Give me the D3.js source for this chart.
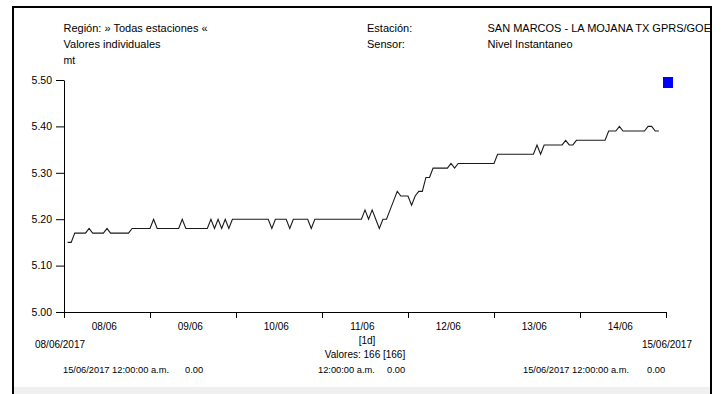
<!DOCTYPE html>
<html><head><meta charset="utf-8">
<script src="https://cdn.jsdelivr.net/npm/d3@7"></script>
<style>
html,body{margin:0;padding:0;background:#fff;}
svg{display:block;font-family:"Liberation Sans",Arial,sans-serif;}
</style></head><body>
<svg id="chart" width="723" height="394"></svg>
<script>
// ---- data ----
const startDate = Date.UTC(2017, 5, 8);   // 08/06/2017 00:00
const endDate = Date.UTC(2017, 5, 15);    // 15/06/2017 00:00
const dayLabels = ["08/06", "09/06", "10/06", "11/06", "12/06", "13/06", "14/06"];
const yTicks = [5.00, 5.10, 5.20, 5.30, 5.40, 5.50];
// hourly readings (mt), first at 08/06 01:00
const levels = [
  5.15,5.15,5.17,5.17,5.17,5.17,5.18,5.17,5.17,5.17,5.17,5.18,5.17,5.17,5.17,5.17,5.17,5.17,5.18,5.18,5.18,5.18,5.18,5.18,
  5.20,5.18,5.18,5.18,5.18,5.18,5.18,5.18,5.20,5.18,5.18,5.18,5.18,5.18,5.18,5.18,5.20,5.18,5.20,5.18,5.20,5.18,5.20,5.20,
  5.20,5.20,5.20,5.20,5.20,5.20,5.20,5.20,5.20,5.18,5.20,5.20,5.20,5.20,5.18,5.20,5.20,5.20,5.20,5.20,5.18,5.20,5.20,5.20,
  5.20,5.20,5.20,5.20,5.20,5.20,5.20,5.20,5.20,5.20,5.20,5.22,5.20,5.22,5.20,5.18,5.20,5.20,5.22,5.24,5.26,5.25,5.25,5.25,
  5.23,5.25,5.26,5.26,5.29,5.29,5.31,5.31,5.31,5.31,5.31,5.32,5.31,5.32,5.32,5.32,5.32,5.32,5.32,5.32,5.32,5.32,5.32,5.32,
  5.34,5.34,5.34,5.34,5.34,5.34,5.34,5.34,5.34,5.34,5.34,5.36,5.34,5.36,5.36,5.36,5.36,5.36,5.36,5.37,5.36,5.36,5.37,5.37,
  5.37,5.37,5.37,5.37,5.37,5.37,5.37,5.39,5.39,5.39,5.40,5.39,5.39,5.39,5.39,5.39,5.39,5.39,5.40,5.40,5.39,5.39
];
const headerLeft = ["Región: » Todas estaciones «", "Valores individuales"];
const headerMid = ["Estación:", "Sensor:"];
const headerRight = ["SAN MARCOS - LA MOJANA TX GPRS/GOES", "Nivel Instantaneo"];
const unitLabel = "mt";
const startLabel = "08/06/2017";
const endLabel = "15/06/2017";
const intervalLabel = "[1d]";
const countLabel = "Valores: 166 [166]";
const footerLabels = ["15/06/2017 12:00:00 a.m.", "12:00:00 a.m.", "15/06/2017 12:00:00 a.m."];
const footerValues = ["0.00", "0.00", "0.00"];

// ---- drawing ----
const svg = d3.select("#chart");
const HOUR = 3600000, DAY = 24 * HOUR;

// window background band and frame
svg.append("rect").attr("x", 13).attr("y", 387).attr("width", 698).attr("height", 7).attr("fill", "#f0f0f0");
svg.append("path").attr("d", "M13,394V7H711V394").attr("fill", "none").attr("stroke", "#000").attr("stroke-width", 2);

const x = d3.scaleUtc().domain([startDate, endDate]).range([64, 666]);
const y = d3.scaleLinear().domain([5.0, 5.5]).range([312, 80]);

// header text
const hdr = svg.append("g").attr("font-size", 11).attr("fill", "#000");
headerLeft.forEach((t, i) => hdr.append("text").attr("x", 63.5).attr("y", 31.5 + i * 16).text(t));
headerMid.forEach((t, i) => hdr.append("text").attr("x", 367).attr("y", 31.5 + i * 16).text(t));
svg.append("clipPath").attr("id", "hclip").append("rect").attr("x", 0).attr("y", 0).attr("width", 710).attr("height", 394);
headerRight.forEach((t, i) => hdr.append("text").attr("x", 487.5).attr("y", 31.5 + i * 16)
  .attr("clip-path", "url(#hclip)").text(t));
svg.append("text").attr("x", 63.5).attr("y", 63.5).attr("font-size", 10.5).text(unitLabel);

// legend swatch
svg.append("rect").attr("x", 663).attr("y", 77).attr("width", 10).attr("height", 11).attr("fill", "#0000ff");

// y axis
const yAxis = svg.append("g").attr("transform", "translate(64,0)")
  .call(d3.axisLeft(y).tickValues(yTicks).tickSize(8).tickSizeOuter(0).tickPadding(4).tickFormat(d3.format(".2f")));
yAxis.selectAll("text").attr("font-size", 10.5).attr("font-family", "Liberation Sans, Arial, sans-serif").attr("fill", "#000");
yAxis.selectAll("line,path").attr("stroke", "#000");

// x axis
const dayTicks = d3.utcDay.range(startDate, endDate + 1);
const xAxis = svg.append("g").attr("transform", "translate(0,312)")
  .call(d3.axisBottom(x).tickValues(dayTicks).tickSize(6).tickSizeOuter(0).tickFormat(""));
xAxis.selectAll("line,path").attr("stroke", "#000");

// day labels
svg.append("g").attr("font-size", 10).attr("text-anchor", "middle")
  .selectAll("text").data(dayLabels).join("text")
  .attr("x", (d, i) => x(startDate + i * DAY + 11.25 * HOUR))
  .attr("y", 330).text(d => d);

// series line
const line = d3.line()
  .x((d, i) => x(startDate + (i + 1) * HOUR))
  .y(d => y(d));
svg.append("path").datum(levels).attr("d", line)
  .attr("fill", "none").attr("stroke", "#1a1a1a").attr("stroke-width", 1.1).attr("stroke-linejoin", "miter");

// footer texts
const ft = svg.append("g").attr("font-size", 10).attr("fill", "#000");
ft.append("text").attr("x", 35).attr("y", 348).text(startLabel);
ft.append("text").attr("x", 692).attr("y", 348).attr("text-anchor", "end").text(endLabel);
ft.append("text").attr("x", 367).attr("y", 343.5).attr("text-anchor", "middle").text(intervalLabel);
ft.append("text").attr("x", 365).attr("y", 358).attr("text-anchor", "middle").text(countLabel);
const fx = [63, 318, 523], vx = [185, 387, 647];
footerLabels.forEach((t, i) => {
  ft.append("text").attr("x", fx[i]).attr("y", 373).attr("font-size", 9.3).text(t);
  ft.append("text").attr("x", vx[i]).attr("y", 373).attr("font-size", 9.3).text(footerValues[i]);
});
</script>
</body></html>
